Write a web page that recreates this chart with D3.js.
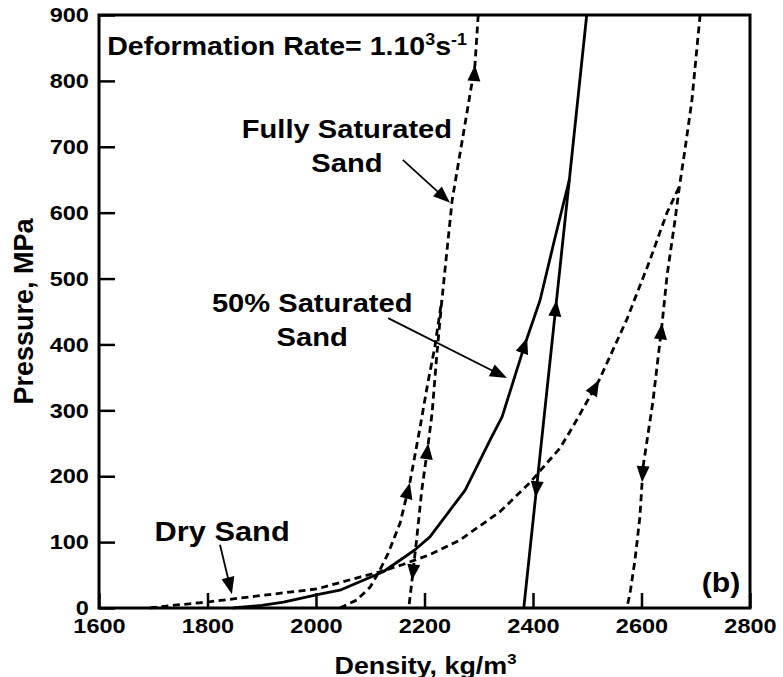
<!DOCTYPE html>
<html>
<head>
<meta charset="utf-8">
<script src="https://cdn.jsdelivr.net/npm/d3@7"></script>
<style>
  html, body { margin: 0; padding: 0; background: #fff; }
  svg { display: block; }
  text { font-family: "Liberation Sans", Arial, Helvetica, sans-serif; font-weight: bold; fill: #000; }
</style>
</head>
<body>
<svg id="chart" width="783" height="677"></svg>
<script>
// ---- axis ticks ----
const densityTicks = [1600, 1800, 2000, 2200, 2400, 2600, 2800];
const pressureTicks = [0, 100, 200, 300, 400, 500, 600, 700, 800, 900];

// ---- pressure–density paths, [density kg/m3, pressure MPa] ----
// Fully saturated sand: loading branch up to where it meets the unloading line
const fullLoad = [[2044,0],[2075,12],[2100,32],[2118,58],[2133,83],[2155,129],[2173,190],
  [2192,275],[2206,341],[2219,396],[2229,452],[2232,467]];
const fullUnload = [[2299,900],[2293,824],[2251,619],[2232,467],[2223,387],[2214,296],
  [2207,250],[2195,179],[2186,108],[2177,42],[2171,0]];

// 50% saturated sand (solid)
const halfLoad = [[1847,0],[1900,4],[1940,9],[2007,21],[2044,27],[2124,55],[2182,88],
  [2210,108],[2275,179],[2321,255],[2343,290],[2385,400],[2413,467],[2440,560],[2467,650]];
const halfUnload = [[2499,900],[2467,650],[2383,0]];

// Dry sand
const dryLoad = [[1694,0],[1749,5],[1799,9],[1910,20],[2002,29],[2081,47],[2118,55],
  [2160,66],[2210,81],[2265,103],[2339,146],[2394,190],[2450,243],[2474,276],[2522,346],
  [2573,438],[2616,529],[2647,600],[2670,640]];
const dryUnload = [[2708,900],[2693,771],[2680,695],[2670,640],[2662,590],[2647,504],
  [2638,432],[2621,313],[2603,215],[2597,138],[2588,73],[2579,23],[2573,0]];

// direction arrows on the paths: [path, pressure at the tip, direction]
const pathArrows = [
  ["fullLoad", 190, "up"], ["fullUnload", 824, "up"], ["fullUnload", 250, "up"], ["fullUnload", 42, "down"],
  ["halfLoad", 410, "up"], ["halfUnload", 467, "up"], ["halfUnload", 168, "down"],
  ["dryLoad", 346, "up"], ["dryUnload", 432, "up"], ["dryUnload", 191, "down"]
];

// callouts: text lines, anchor [density, pressure] of first baseline
const calloutText = [["Fully Saturated", "Sand"], ["50% Saturated", "Sand"], ["Dry Sand"]];
const calloutAt = [[2057, 713], [1993, 449], [1827, 102]];
const calloutSize = [26, 26, 27.5];
// callout pointers: [from, to] in [density, pressure]
const calloutArrows = [
  [[2160, 680], [2247, 615]],
  [[2133, 440], [2352, 349]],
  [[1823, 96], [1845, 21]]
];

const paths = { fullLoad, fullUnload, halfLoad, halfUnload, dryLoad, dryUnload };
const dashed = { fullLoad: true, fullUnload: true, halfLoad: false, halfUnload: false, dryLoad: true, dryUnload: true };

// ---- layout ----
const svg = d3.select("#chart");
const plot = { left: 99, right: 750, top: 15, bottom: 608 };
const SX = 1.12; // horizontal glyph stretch

const x = d3.scaleLinear().domain([1600, 2800]).range([plot.left, plot.right]);
const y = d3.scaleLinear().domain([0, 900]).range([plot.bottom, plot.top]);

function wideText(parent, px, py, size, anchor) {
  return parent.append("text")
    .attr("transform", `translate(${px},${py}) scale(${SX},1)`)
    .attr("text-anchor", anchor || "start")
    .style("font-size", size + "px");
}

// ---- axes (ticks pointing inward) ----
const xAxis = svg.append("g")
  .attr("transform", `translate(0,${plot.bottom})`)
  .call(d3.axisBottom(x).tickValues(densityTicks).tickSize(-15).tickPadding(10).tickFormat(d3.format("d")));
const yAxis = svg.append("g")
  .attr("transform", `translate(${plot.left},0)`)
  .call(d3.axisLeft(y).tickValues(pressureTicks).tickSize(-16).tickPadding(9).tickFormat(d3.format("d")));

[xAxis, yAxis].forEach(g => {
  g.select(".domain").remove();
  g.selectAll(".tick line").attr("stroke", "#000").attr("stroke-width", 2.5);
  g.selectAll(".tick text")
    .attr("fill", "#000")
    .style("font-size", "21px")
    .style("font-family", "'Liberation Sans', Arial, Helvetica, sans-serif")
    .style("font-weight", "bold");
});
xAxis.selectAll(".tick text").attr("transform", `scale(${SX},1)`);
yAxis.selectAll(".tick text").attr("transform", `scale(${SX},1)`);

// ---- data paths ----
const line = d3.line().x(d => x(d[0])).y(d => y(d[1]));
Object.keys(paths).forEach(name => {
  svg.append("path")
    .attr("d", line(paths[name]))
    .attr("fill", "none")
    .attr("stroke", "#000")
    .attr("stroke-width", 2.8)
    .attr("stroke-linejoin", "round")
    .attr("stroke-dasharray", dashed[name] ? "7,4.5" : null);
});

function arrowHead(tip, ux, uy, len, half) {
  const bx = tip[0] - ux * len, by = tip[1] - uy * len;
  const nx = -uy, ny = ux;
  svg.append("path")
    .attr("d", `M${tip[0]},${tip[1]}L${bx + nx * half},${by + ny * half}L${bx - nx * half},${by - ny * half}Z`)
    .attr("fill", "#000");
}

// arrowheads placed on a path at a given pressure
pathArrows.forEach(([name, p, dir]) => {
  const pts = paths[name];
  for (let i = 0; i < pts.length - 1; i++) {
    const a = pts[i], b = pts[i + 1];
    const lo = Math.min(a[1], b[1]), hi = Math.max(a[1], b[1]);
    if (p >= lo && p <= hi && hi > lo) {
      const t = (p - a[1]) / (b[1] - a[1]);
      const d = a[0] + t * (b[0] - a[0]);
      const low = a[1] < b[1] ? a : b, high = a[1] < b[1] ? b : a;
      let vx = x(high[0]) - x(low[0]), vy = y(high[1]) - y(low[1]);
      if (dir === "down") { vx = -vx; vy = -vy; }
      const n = Math.hypot(vx, vy);
      arrowHead([x(d), y(p)], vx / n, vy / n, 16, 6.5);
      break;
    }
  }
});

// ---- frame ----
svg.append("rect")
  .attr("x", plot.left).attr("y", plot.top)
  .attr("width", plot.right - plot.left).attr("height", plot.bottom - plot.top)
  .attr("fill", "none").attr("stroke", "#000").attr("stroke-width", 3);

// ---- callouts ----
calloutArrows.forEach(([from, to]) => {
  const x0 = x(from[0]), y0 = y(from[1]), x1 = x(to[0]), y1 = y(to[1]);
  const n = Math.hypot(x1 - x0, y1 - y0), ux = (x1 - x0) / n, uy = (y1 - y0) / n;
  svg.append("line")
    .attr("x1", x0).attr("y1", y0).attr("x2", x1 - ux * 10).attr("y2", y1 - uy * 10)
    .attr("stroke", "#000").attr("stroke-width", 1.8);
  arrowHead([x1, y1], ux, uy, 17, 6.5);
});

calloutText.forEach((lines, i) => {
  const [d, p] = calloutAt[i];
  lines.forEach((t, j) => {
    wideText(svg, x(d), y(p) + j * 34, calloutSize[i], "middle").text(t);
  });
});

// deformation rate note
const rate = wideText(svg, x(1615), y(839), 25.5, "start");
rate.append("tspan").text("Deformation Rate= 1.10");
rate.append("tspan").attr("dy", -10).style("font-size", "16px").text("3");
rate.append("tspan").attr("dy", 10).text("s");
rate.append("tspan").attr("dy", -10).style("font-size", "16px").text("-1");

// panel tag
wideText(svg, x(2782), y(24), 27, "end").text("(b)");

// ---- axis titles ----
const xt = wideText(svg, (plot.left + plot.right) / 2 + 1, 674, 24, "middle");
xt.append("tspan").text("Density, kg/m");
xt.append("tspan").attr("dy", -10).style("font-size", "15px").text("3");

svg.append("text")
  .attr("transform", `translate(33,${(plot.top + plot.bottom) / 2}) rotate(-90)`)
  .attr("text-anchor", "middle")
  .style("font-size", "27px")
  .text("Pressure, MPa");
</script>
</body>
</html>
